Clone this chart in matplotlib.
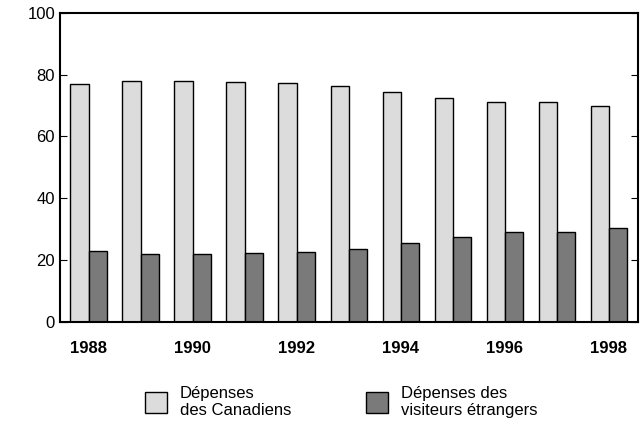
import numpy as np
import matplotlib.pyplot as plt
from matplotlib.patches import Patch

years = list(range(1988, 1999))
canadiens = [77.0, 78.0, 78.0, 77.6, 77.3, 76.4, 74.5, 72.5, 71.0, 71.0, 69.8]
visiteurs = [23.0, 22.0, 22.0, 22.2, 22.6, 23.5, 25.4, 27.4, 28.9, 28.9, 30.2]
xlabels = ["1988", "", "1990", "", "1992", "", "1994", "", "1996", "", "1998"]

plt.rcParams['font.family'] = ['Liberation Sans', 'DejaVu Sans']

fig = plt.figure(figsize=(6.44, 4.29), dpi=100)
ax = fig.add_axes([0.093, 0.25, 0.897, 0.72])

x = np.arange(len(years))
w = 0.35
ax.bar(x - w / 2, canadiens, w, color="#dcdcdc", edgecolor="black", linewidth=1)
ax.bar(x + w / 2, visiteurs, w, color="#7a7a7a", edgecolor="black", linewidth=1)

ax.set_xlim(-0.55, len(years) - 0.45)
ax.set_ylim(0, 100)
ax.set_yticks(range(0, 101, 20))
ax.set_xticks(x)
ax.set_xticklabels(xlabels, fontweight="bold", fontsize=12)
ax.tick_params(axis="x", length=0, pad=14)
ax.tick_params(axis="y", labelsize=12, right=True, direction="in", length=5)
for s in ax.spines.values():
    s.set_linewidth(1.5)

handles = [Patch(facecolor="#dcdcdc", edgecolor="black"),
           Patch(facecolor="#7a7a7a", edgecolor="black")]
fig.legend(handles, ["Dépenses\ndes Canadiens", "Dépenses des\nvisiteurs étrangers"],
           loc="lower center", bbox_to_anchor=(0.53, -0.01), ncol=2, frameon=False,
           fontsize=12, handlelength=1.3, handleheight=1.5, columnspacing=4.5)

fig.savefig("out.png")
